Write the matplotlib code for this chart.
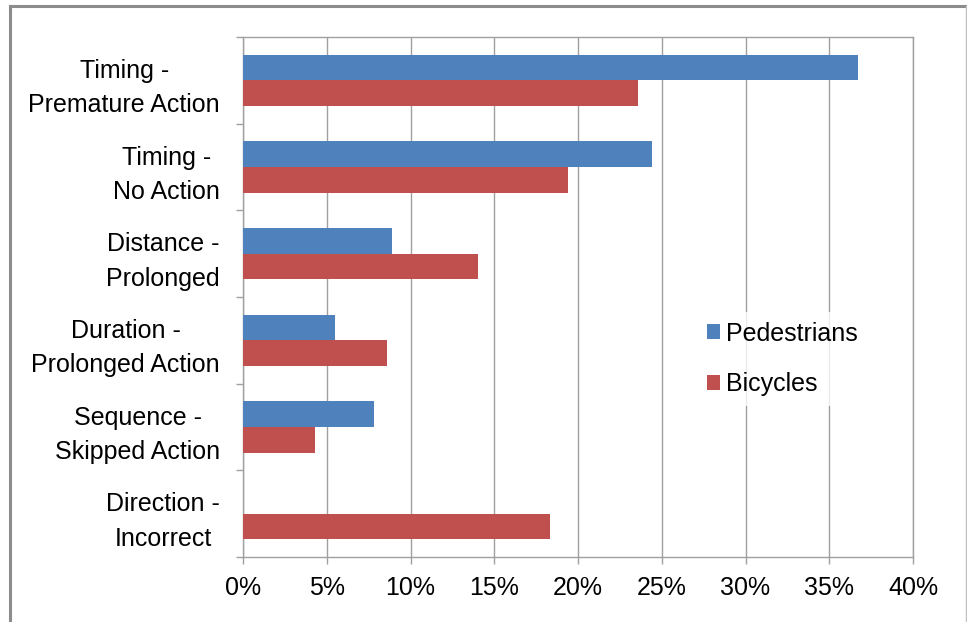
import matplotlib
matplotlib.use('Agg')
import matplotlib.pyplot as plt
from matplotlib.lines import Line2D
from matplotlib.ticker import PercentFormatter
import numpy as np

plt.rcParams['font.family'] = ['Liberation Sans', 'DejaVu Sans']

categories = ['Timing -\nPremature Action', 'Timing -\nNo Action', 'Distance -\nProlonged',
              'Duration -\nProlonged Action', 'Sequence -\nSkipped Action', 'Direction -\nIncorrect']
pedestrians = [0.367, 0.244, 0.089, 0.055, 0.078, 0.0]
bicycles = [0.236, 0.194, 0.140, 0.086, 0.043, 0.183]
x_ticks = [0, 0.05, 0.10, 0.15, 0.20, 0.25, 0.30, 0.35, 0.40]

blue = '#4F81BD'
red = '#C0504D'
grey = '#A0A0A0'
fs = 18

fig = plt.figure(figsize=(9.67, 6.22), dpi=100)
ax = fig.add_axes([243 / 967, 65 / 622, 670 / 967, 520 / 622])

y = np.arange(len(categories))
h = 0.295
ax.barh(y - h / 2, pedestrians, height=h, color=blue, label='Pedestrians', zorder=3)
ax.barh(y + h / 2, bicycles, height=h, color=red, label='Bicycles', zorder=3)

ax.set_ylim(len(categories) - 0.5, -0.5)
ax.set_xlim(0, 0.40)

# category labels centred, ticks at the borders
ax.set_yticks(y)
ax.set_yticklabels(categories, fontsize=fs, multialignment='center', linespacing=1.55)
ax.set_yticks(np.arange(-0.5, len(categories)), minor=True)
ax.tick_params(axis='y', which='major', length=0, pad=16.5)
ax.tick_params(axis='y', which='minor', length=5, width=1, color=grey, direction='out')

ax.set_xticks(x_ticks)
ax.xaxis.set_major_formatter(PercentFormatter(1.0, decimals=0))
ax.tick_params(axis='x', labelsize=fs, length=5, width=1, color=grey, direction='out', pad=9)
ax.grid(axis='x', color=grey, linewidth=1, zorder=0)

for s in ax.spines.values():
    s.set_color(grey)
    s.set_linewidth(1)

leg = ax.legend(loc='center left', bbox_to_anchor=(0.677, 0.381), frameon=True,
                fontsize=fs, handlelength=0.53, handleheight=0.55, handletextpad=0.25,
                labelspacing=1.05, borderpad=0.4, borderaxespad=0, fancybox=False)
leg.get_frame().set_edgecolor('none')
leg.get_frame().set_facecolor('white')
leg.set_zorder(5)

# outer chart frame
fig.add_artist(Line2D([9.5 / 967, 966 / 967], [1 - 6 / 622, 1 - 6 / 622], color='#8C8C8C', linewidth=2.2, transform=fig.transFigure))
fig.add_artist(Line2D([9.5 / 967, 9.5 / 967], [0, 1 - 6 / 622], color='#8C8C8C', linewidth=2.2, transform=fig.transFigure))
fig.add_artist(Line2D([966 / 967, 966 / 967], [0, 1 - 6 / 622], color='#C0C0C0', linewidth=1, transform=fig.transFigure))

fig.savefig('out.png', dpi=100)
